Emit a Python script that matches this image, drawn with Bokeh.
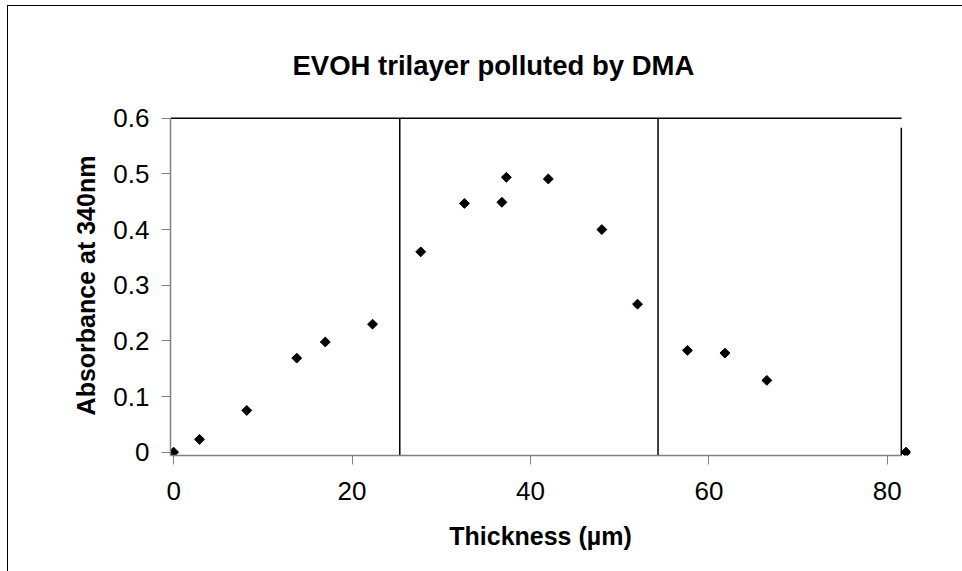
from bokeh.plotting import figure
from bokeh.models import Range1d, FixedTicker
from bokeh.embed import file_html
from bokeh.resources import INLINE
from math import pi

# ---- data ----
thickness_um = [0, 2.9, 8.2, 13.8, 17.0, 22.3, 27.7, 32.6, 36.8, 37.3,
                42.0, 48.0, 52.0, 57.6, 61.8, 66.5, 82.1]
absorbance = [0, 0.023, 0.075, 0.169, 0.198, 0.230, 0.360, 0.447, 0.449, 0.494,
              0.491, 0.400, 0.266, 0.183, 0.178, 0.129, 0]

X_MIN, X_MAX = -0.35, 82.6
Y_MIN, Y_MAX = -0.006, 0.605

# layer boundary lines (x position, bottom, top)
boundary_x = [25.35, 54.3, 81.57]
boundary_y0 = [Y_MIN, Y_MIN, -0.011]
boundary_y1 = [0.6, 0.6, 0.583]
# top line of the plot
top_x = [X_MIN, 81.6]
top_y = [0.6, 0.6]

x_ticks = [0, 20, 40, 60, 80]
y_ticks = [0, 0.1, 0.2, 0.3, 0.4, 0.5, 0.6]
y_tick_labels = ["0", "0.1", "0.2", "0.3", "0.4", "0.5", "0.6"]

FONT = "Liberation Sans"

p = figure(
    output_backend="svg", toolbar_location=None,
    frame_width=740, frame_height=340,
    x_range=Range1d(X_MIN, X_MAX), y_range=Range1d(Y_MIN, Y_MAX),
    min_border_left=162, min_border_right=52,
    min_border_top=109, min_border_bottom=116,
    title="EVOH trilayer polluted by DMA",
)
p.styles = {"margin-left": "7px", "margin-top": "5px",
            "border-left": "1px solid black", "border-top": "1px solid black"}
p.outline_line_color = None
p.grid.visible = False
p.background_fill_color = "white"
p.border_fill_color = "white"

p.title.text_font = FONT
p.title.text_font_size = "27.5px"
p.title.text_font_style = "bold"
p.title.text_color = "black"
p.title.align = "left"
p.title.offset = 122
p.title.standoff = 70

# axes
for ax in (p.xaxis[0], p.yaxis[0]):
    ax.axis_line_color = "#808080"
    ax.axis_line_width = 1.5
    ax.major_tick_line_color = "#808080"
    ax.minor_tick_line_color = None
    ax.major_tick_in = 0
    ax.major_tick_out = 9
    ax.major_label_text_font = FONT
    ax.major_label_text_font_size = "26px"
    ax.major_label_text_color = "black"
    ax.axis_label_text_font = FONT
    ax.axis_label_text_font_style = "bold"
    ax.axis_label_text_font_size = "25px"
    ax.axis_label_text_color = "black"

p.xaxis.ticker = FixedTicker(ticks=x_ticks)
p.yaxis.ticker = FixedTicker(ticks=y_ticks)
p.yaxis.major_label_overrides = {t: s for t, s in zip(y_ticks, y_tick_labels)}
p.xaxis.bounds = (X_MIN, 81.6)
p.yaxis.bounds = (Y_MIN, 0.6)
p.xaxis.axis_label = "Thickness (µm)"
p.yaxis.axis_label = "Absorbance at 340nm"
p.xaxis.major_label_standoff = 17
p.yaxis.major_label_standoff = 12
p.xaxis.axis_label_standoff = 19
p.yaxis.axis_label_standoff = 10

# lines
p.segment(x0=boundary_x, y0=boundary_y0, x1=boundary_x, y1=boundary_y1,
          line_color="black", line_width=1.5)
p.line(top_x, top_y, line_color="black", line_width=1.5)

# markers
p.scatter(thickness_um, absorbance, marker="square", size=7, angle=pi / 4,
          fill_color="black", line_color="black")

open("out.html", "w").write(file_html(p, INLINE))
